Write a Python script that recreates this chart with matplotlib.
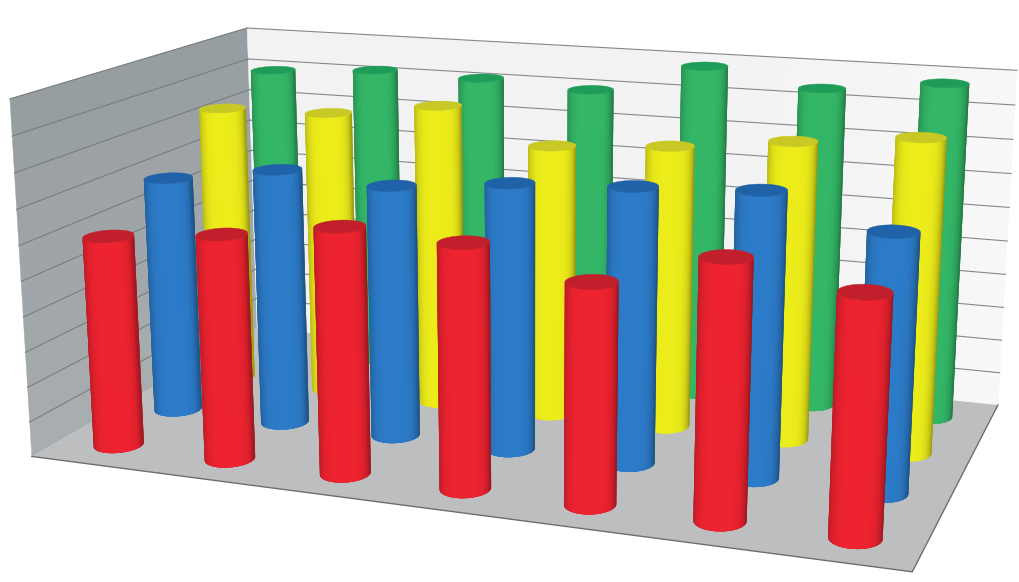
import numpy as np
import matplotlib
matplotlib.use("Agg")
import matplotlib.pyplot as plt
from matplotlib.collections import PolyCollection

# bar heights, one list per row of cylinders (front to back)
red_vals = [6.01, 6.35, 6.85, 6.71, 5.98, 6.93, 6.35]
blue_vals = [6.94, 7.44, 7.24, 7.57, 7.74, 7.9, 7.08]
yellow_vals = [8.38, 8.46, 8.89, 7.95, 8.18, 8.55, 8.89]
green_vals = [9.0, 9.2, 9.15, 9.0, 9.9, 9.45, 9.8]

rows = [red_vals, blue_vals, yellow_vals, green_vals]
side_cols = ["#ee2330", "#2c7bc8", "#ecec1a", "#33b767"]
top_cols = ["#c21f2c", "#1f62a8", "#c9c925", "#1f9c58"]

z_max = 10
rad_x, rad_y = 0.0275, 0.055

# box corners in the picture, used to fit the camera
box_pts = np.array([[0, 0, 0], [1, 0, 0], [1, 1, 0], [0, 1, 0],
                    [0, 0, 1], [0, 1, 1], [1, 1, 1]], float)
pix_pts = np.array([[32, 458], [912, 571], [998, 406], [257, 326],
                    [10, 98], [247, 29], [1017, 70]], float)


def fit_camera(pts, pix):
    A = []
    for (x, y, z), (u, v) in zip(pts, pix):
        A.append([x, y, z, 1, 0, 0, 0, 0, -u * x, -u * y, -u * z, -u])
        A.append([0, 0, 0, 0, x, y, z, 1, -v * x, -v * y, -v * z, -v])
    _, _, vt = np.linalg.svd(np.array(A))
    return vt[-1].reshape(3, 4)


P = fit_camera(box_pts, pix_pts)


def project(x, y, z):
    # x, y run 0-1 over the floor, z in value units
    x, y, z = np.broadcast_arrays(x, y, np.asarray(z, float) / z_max)
    h = P @ np.stack([x, y, z, np.ones_like(x)])
    return np.column_stack([h[0] / h[2], h[1] / h[2]])


def lerp_col(c1, c2, t):
    c1 = np.array(matplotlib.colors.to_rgb(c1))
    c2 = np.array(matplotlib.colors.to_rgb(c2))
    return c1 + (c2 - c1) * t


def draw_walls(ax):
    for z in range(z_max):
        # left wall gets lighter toward the floor
        col = lerp_col("#a9aeb0", "#969da0", (z + 0.5) / z_max)
        ax.fill(*project([0, 0, 0, 0], [0, 1, 1, 0], [z, z, z + 1, z + 1]).T,
                color=col, lw=0.3, zorder=1)
    nx = 40
    for i in range(nx):
        col = lerp_col("#f2f2f2", "#f8f8f8", (i / nx) ** 4)
        x0, x1 = i / nx, (i + 1) / nx
        ax.fill(*project([x0, x1, x1, x0], [1, 1, 1, 1], [0, 0, z_max, z_max]).T,
                color=col, lw=0.3, zorder=1)
    ax.fill(*project([0, 1, 1, 0], [0, 0, 1, 1], [0, 0, 0, 0]).T,
            color="#bcbec0", lw=0, zorder=2)

    for z in range(1, z_max + 1):
        ax.plot(*project([0, 0], [0, 1], [z, z]).T, color="#777d80", lw=0.8, zorder=2)
        ax.plot(*project([0, 1], [1, 1], [z, z]).T, color="#85888a", lw=0.8, zorder=2)
    ax.plot(*project([0, 1, 1], [0, 0, 1], [0, 0, 0]).T, color="#6d6e70", lw=1.0, zorder=3)


def draw_cylinder(ax, x, y, val, side, top, zo):
    th = np.linspace(0, 2 * np.pi, 241)
    cx = x + rad_x * np.cos(th)
    cy = y + rad_y * np.sin(th)
    bot_ring = project(cx, cy, 0 * th)
    top_ring = project(cx, cy, 0 * th + val)

    umin, umax = top_ring[:, 0].min(), top_ring[:, 0].max()
    base = np.array(matplotlib.colors.to_rgb(side))
    front = []
    for k in range(len(th) - 1):
        quad = np.array([bot_ring[k], bot_ring[k + 1], top_ring[k + 1], top_ring[k]])
        # keep only the faces looking at us (sign of the screen area)
        area = np.sum(quad[:, 0] * np.roll(quad[:, 1], -1) - np.roll(quad[:, 0], -1) * quad[:, 1])
        if area < 0:
            u = (top_ring[k, 0] - umin) / (umax - umin)
            front.append((u, k))
    # left to right, each strip runs under the next one so no seams show
    front.sort()
    polys, cols = [], []
    for u, k in front:
        k2 = k - 3 if th[k] < np.pi else k + 4
        k2 = int(np.clip(k2, 0, len(th) - 1))
        polys.append(np.array([bot_ring[k], bot_ring[k2], top_ring[k2], top_ring[k]]))
        shade = 1 - 0.27 * abs(2 * u - 0.95) ** 5
        cols.append(base * shade)
    ax.add_collection(PolyCollection(polys, facecolors=cols, edgecolors="none",
                                     linewidths=0, zorder=zo))
    ax.fill(*top_ring.T, color=top, lw=0.3, zorder=zo + 0.5)


fig = plt.figure(figsize=(10.19, 5.82), dpi=100)
ax = fig.add_axes([0, 0, 1, 1])
ax.set_xlim(0, 1019)
ax.set_ylim(582, 0)
ax.axis("off")

draw_walls(ax)

n_cat = len(red_vals)
n_row = len(rows)
# back row first so the front ones cover it
for j in range(n_row - 1, -1, -1):
    y = (j + 0.5) / n_row
    for i, val in enumerate(rows[j]):
        x = (i + 0.5) / n_cat
        draw_cylinder(ax, x, y, val, side_cols[j], top_cols[j], 10 + (n_row - j) * 2)

fig.savefig("out.png", dpi=100)
